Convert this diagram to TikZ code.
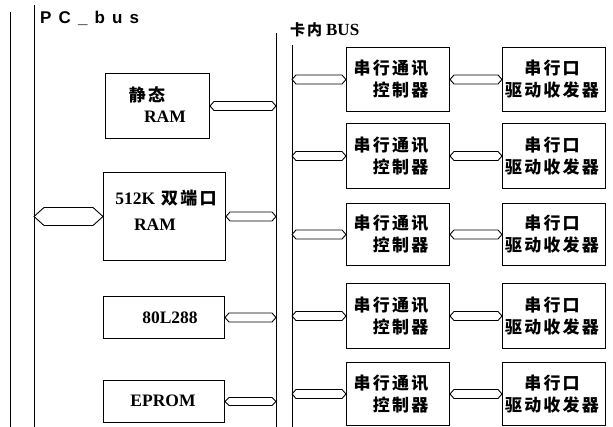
\documentclass[tikz,border=0pt]{standalone}
\usepackage{fontspec}
\setmainfont{Liberation Serif}
\newfontfamily\cjk[LetterSpace=13]{Noto Sans CJK SC}
\newfontfamily\pcfont[LetterSpace=42]{Liberation Sans}
\usetikzlibrary{calc}
\tikzset{
  box/.style={draw, line width=1pt, inner sep=0pt, anchor=north west},
  busline/.style={line width=1pt},
  arrline/.style={line width=0.9pt, line join=round},
  cn/.style={font=\cjk\bfseries\fontsize{17}{18}\selectfont, inner sep=0pt},
  ln/.style={font=\bfseries\fontsize{17.5}{20}\selectfont, inner sep=0pt},
}
% hollow double-headed bus arrow: #1 left end, #2 right end, #3 half height, #4 tip length
\newcommand{\hollowarrow}[4]{%
  \draw[arrline] (#1) -- ($(#1)+(#4,-#3)$) -- ($(#2)+(-#4,-#3)$) -- (#2)
    -- ($(#2)+(-#4,#3)$) -- ($(#1)+(#4,#3)$) -- cycle;}
\begin{document}
\begin{tikzpicture}[x=1pt,y=-1pt]
\useasboundingbox (0,0) rectangle (613,427);
% bus lines
\coordinate (pcA1) at (10,12); \coordinate (pcA2) at (10,427);
\coordinate (pcB1) at (34,5);  \coordinate (pcB2) at (34,427);
\coordinate (cbA1) at (276,33); \coordinate (cbA2) at (276,427);
\coordinate (cbB1) at (292,45); \coordinate (cbB2) at (292,427);
\draw[busline] (pcA1) -- (pcA2);
\draw[busline] (pcB1) -- (pcB2);
\draw[busline] (cbA1) -- (cbA2);
\draw[busline] (cbB1) -- (cbB2);
\node[anchor=west, inner sep=0pt, font=\pcfont\bfseries\fontsize{17}{19}\selectfont] (pcbus) at (40,18) {PC\_bus};
\node[anchor=west, inner sep=0pt] (cardbus) at (290,30) {{\cjk\bfseries\fontsize{15}{17}\selectfont 卡内}\hspace{4pt}{\bfseries\fontsize{17}{19}\selectfont BUS}};
% left boxes
\node[box, minimum width=104pt, minimum height=65pt] (sram) at (105,73) {};
\node[box, minimum width=122pt, minimum height=88pt] (dram) at (103,172) {};
\node[box, minimum width=121pt, minimum height=42pt] (cpu) at (103,296) {};
\node[box, minimum width=121pt, minimum height=42pt] (eprom) at (103,380) {};
\node[cn] (t1) at (147,95) {静态};
\node[ln] (t2) at (165,117) {RAM};
\node[inner sep=0pt] (t3) at (166,198) {{\bfseries\fontsize{17.5}{20}\selectfont 512K}\hspace{6pt}{\cjk\bfseries\fontsize{17}{18}\selectfont 双端口}};
\node[ln] (t4) at (155,225) {RAM};
\node[ln] (t5) at (170,318) {80L288};
\node[ln] (t6) at (163,401) {EPROM};
% right boxes
\foreach \i/\t/\b in {1/47/111, 2/123/188, 3/203/265, 4/283/348, 5/362/425}{
  \pgfmathsetmacro{\h}{\b-\t}
  \node[box, minimum width=103pt, minimum height=\h pt] (ctrl\i) at (346,\t) {};
  \node[box, minimum width=103pt, minimum height=\h pt] (drv\i) at (502,\t) {};
  \node[cn, align=right] (ct\i) at ($(ctrl\i.center)+(-7,0)$) {串行通讯\\[4pt]控制器};
  \node[cn, align=center] (dt\i) at ($(drv\i.center)+(-2,0)$) {串行口\\[4pt]驱动收发器};
}
% arrow end points
\coordinate (pcd) at (dram.west -| pcB1);
\coordinate (sb) at (sram.east -| cbA1);
\coordinate (db) at (dram.east -| cbA1);
\coordinate (cb) at (cpu.east -| cbA1);
\coordinate (eb) at (eprom.east -| cbA1);
% arrows
\hollowarrow{pcd}{dram.west}{9}{10}
\hollowarrow{sram.east}{sb}{4.5}{4}
\hollowarrow{dram.east}{db}{4.5}{4}
\hollowarrow{cpu.east}{cb}{4.5}{4}
\hollowarrow{eprom.east}{eb}{4}{4}
\foreach \i in {1,...,5}{
  \coordinate (k\i) at (ctrl\i.west -| cbB1);
  \hollowarrow{k\i}{ctrl\i.west}{4.5}{4}
  \hollowarrow{ctrl\i.east}{drv\i.west}{4.5}{4}
}
\end{tikzpicture}
\end{document}
